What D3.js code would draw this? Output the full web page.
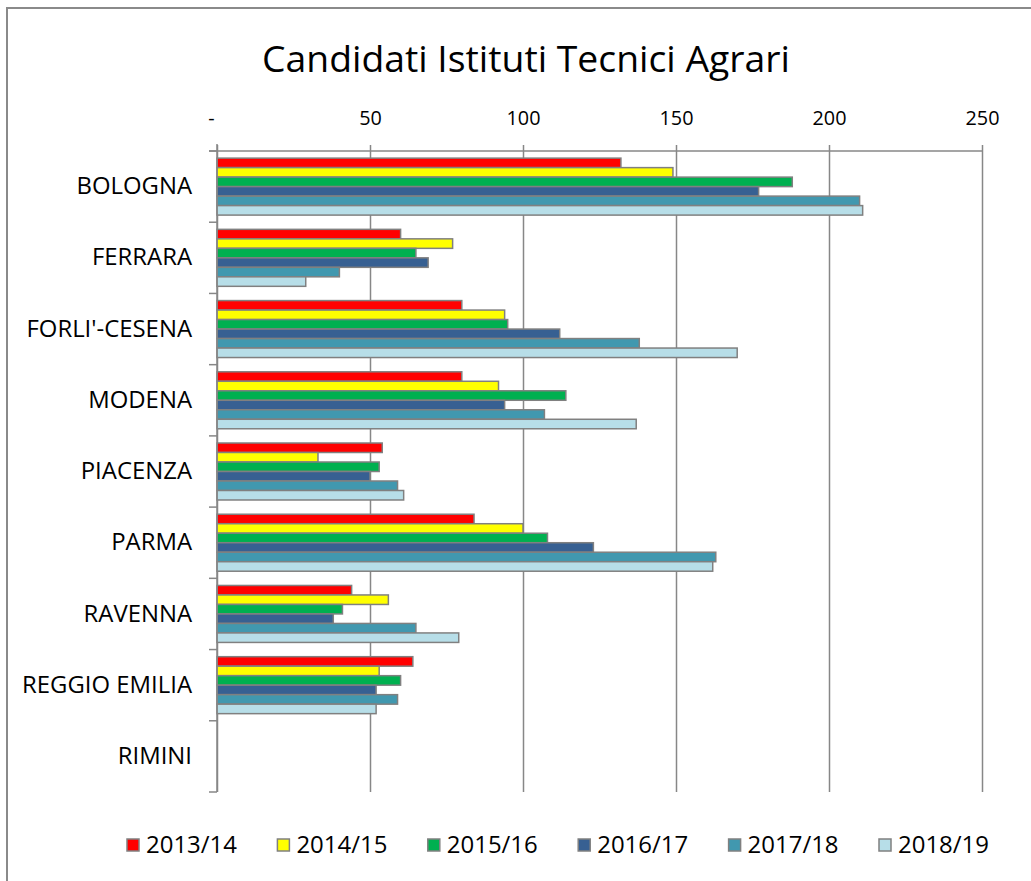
<!DOCTYPE html>
<html>
<head>
<meta charset="utf-8">
<script src="https://cdn.jsdelivr.net/npm/d3@7"></script>
<style>
  html, body { margin: 0; padding: 0; background: #fff; }
  svg { display: block; font-family: "Open Sans", "Noto Sans", sans-serif; }
</style>
</head>
<body>
<svg id="chart" width="1031" height="881"></svg>
<script>
const title = "Candidati Istituti Tecnici Agrari";
const categories = ["BOLOGNA", "FERRARA", "FORLI'-CESENA", "MODENA", "PIACENZA", "PARMA", "RAVENNA", "REGGIO EMILIA", "RIMINI"];
const seriesNames = ["2013/14", "2014/15", "2015/16", "2016/17", "2017/18", "2018/19"];
const seriesColors = ["#FF0000", "#FFFF00", "#00B050", "#376092", "#4198AF", "#B7DEE8"];
const v2013 = [132, 60, 80, 80, 54, 84, 44, 64, null];
const v2014 = [149, 77, 94, 92, 33, 100, 56, 53, null];
const v2015 = [188, 65, 95, 114, 53, 108, 41, 60, null];
const v2016 = [177, 69, 112, 94, 50, 123, 38, 52, null];
const v2017 = [210, 40, 138, 107, 59, 163, 65, 59, null];
const v2018 = [211, 29, 170, 137, 61, 162, 79, 52, null];
const seriesValues = [v2013, v2014, v2015, v2016, v2017, v2018];
const xTicks = [0, 50, 100, 150, 200, 250];

const svg = d3.select("#chart");
const gridColor = "#878787";

// outer chart border
svg.append("rect").attr("x", 7).attr("y", 8).attr("width", 1100).attr("height", 1000)
  .attr("fill", "#fff").attr("stroke", "#8a8a8a").attr("stroke-width", 2);

function fitFont(sel, target) {
  const node = sel.node();
  const base = 20;
  sel.attr("font-size", base);
  const w = node.getComputedTextLength();
  return base * target / w;
}

// title
const t = svg.append("text").attr("x", 526).attr("y", 72).attr("text-anchor", "middle")
  .attr("fill", "#000").text(title);
t.attr("font-size", fitFont(t, 528));

const plotTop = 151, plotBottom = 792;
const x = d3.scaleLinear().domain([0, 250]).range([217, 982]);
const y = d3.scaleBand().domain(categories).range([plotTop, plotBottom]).paddingInner(0).paddingOuter(0);
const bw = y.bandwidth() / 7.5;
const inner = d3.scaleBand().domain(seriesNames)
  .range([bw * 0.75, y.bandwidth() - bw * 0.75]).padding(0);

// measure font sizes
const probe = svg.append("text").text("100");
const tickSize = fitFont(probe, 34);
probe.text("REGGIO EMILIA");
const catSize = fitFont(probe, 170);
probe.text("2013/14");
const legSize = fitFont(probe, 91);
probe.remove();

// top axis with gridlines
const xAxis = d3.axisTop(x).tickValues(xTicks)
  .tickFormat(d => d === 0 ? "-" : d3.format("d")(d))
  .tickSize(-(plotBottom - 145)).tickPadding(20);
const gx = svg.append("g").attr("transform", "translate(0,145)").call(xAxis);
gx.select(".domain").remove();
gx.selectAll(".tick line").attr("stroke", gridColor).attr("stroke-width", 1.5);
gx.selectAll(".tick text").attr("font-size", tickSize).attr("fill", "#000")
  .attr("font-family", "\"Open Sans\", sans-serif")
  .attr("dx", d => d === 0 ? -6 : 0);

// horizontal axis line
svg.append("line").attr("x1", x(0) - 8).attr("x2", x(250)).attr("y1", plotTop).attr("y2", plotTop)
  .attr("stroke", gridColor).attr("stroke-width", 1.5);

// bars
const data = [];
categories.forEach((c, i) => {
  seriesNames.forEach((s, j) => {
    const v = seriesValues[j][i];
    if (v != null) data.push({ c, s, v, color: seriesColors[j] });
  });
});
svg.append("g").selectAll("rect").data(data).join("rect")
  .attr("x", x(0))
  .attr("y", d => y(d.c) + inner(d.s))
  .attr("width", d => x(d.v) - x(0))
  .attr("height", inner.bandwidth())
  .attr("fill", d => d.color)
  .attr("stroke", "#808080").attr("stroke-width", 1.5);

// left axis
const yAxis = d3.axisLeft(y).tickSize(0).tickPadding(25);
const gy = svg.append("g").attr("transform", `translate(${x(0)},0)`).call(yAxis);
gy.select(".domain").remove();
gy.selectAll(".tick text").attr("font-size", catSize).attr("fill", "#000")
  .attr("font-family", "\"Open Sans\", sans-serif");
svg.append("line").attr("x1", x(0)).attr("x2", x(0)).attr("y1", plotTop - 7).attr("y2", plotBottom)
  .attr("stroke", gridColor).attr("stroke-width", 1.5);
const bounds = categories.map(c => y(c)).concat([y(categories[categories.length - 1]) + y.step()]);
svg.append("g").selectAll("line").data(bounds).join("line")
  .attr("x1", x(0) - 8).attr("x2", x(0)).attr("y1", d => d).attr("y2", d => d)
  .attr("stroke", gridColor).attr("stroke-width", 1.5);

// legend
const legX = d3.scalePoint().domain(seriesNames).range([127, 879]);
const leg = svg.append("g").selectAll("g").data(seriesNames).join("g")
  .attr("transform", d => `translate(${legX(d)},845)`);
leg.append("rect").attr("x", 0).attr("y", -6).attr("width", 12).attr("height", 12)
  .attr("fill", (d, i) => seriesColors[i]).attr("stroke", "#808080").attr("stroke-width", 1.5);
leg.append("text").attr("x", 19).attr("y", 0).attr("dy", "0.35em")
  .attr("font-size", legSize).attr("fill", "#000").text(d => d);
</script>
</body>
</html>
